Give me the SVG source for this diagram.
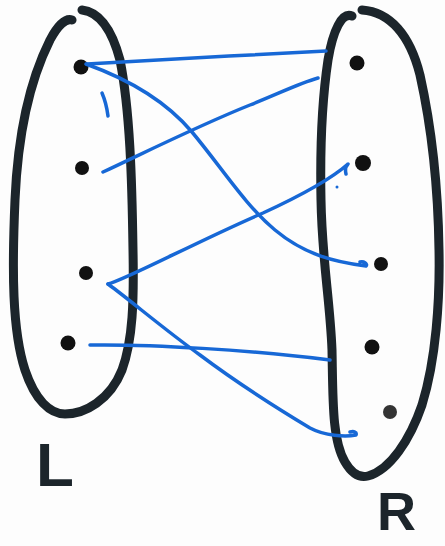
<svg xmlns="http://www.w3.org/2000/svg" width="445" height="546" viewBox="0 0 445 546">
<style>
.set{fill:none;stroke:#1c252b;stroke-width:9;stroke-linecap:round;stroke-linejoin:round}
.dot{fill:#111}
.edge{fill:none;stroke:#1768d6;stroke-width:3.5;stroke-linecap:round;stroke-linejoin:round}
.lbl{font-family:"Liberation Sans",Arial,sans-serif;font-weight:bold;fill:#1c252b}
</style>
<rect width="445" height="546" fill="#fdfdfd"/>
<g id="set-L">
<path class="set" d="M72,20 C66,18 58,25 50,40 C30,80 18,130 15,200 C12,270 12,330 25,370 C35,400 50,414 65,414 C85,414 110,400 122,370 C133,340 134,300 133,250 C132,180 130,110 120,60 C112,30 100,12 82,10"/>
<text class="lbl" x="36" y="486" font-size="62">L</text>
</g>
<g id="set-R">
<path class="set" d="M352,16 C342,12 333,30 328,60 C322,100 320,150 321,200 C322,260 330,300 332,350 C333,400 332,440 345,462 C352,474 360,478 368,476 C390,470 410,440 422,405 C436,360 440,300 439,250 C438,180 430,120 420,75 C410,35 390,12 362,10"/>
<text class="lbl" x="377" y="530" font-size="54">R</text>
</g>
<g id="L1"><circle class="dot" cx="81" cy="67" r="7.5"/></g>
<g id="L2"><circle class="dot" cx="82" cy="168" r="7"/></g>
<g id="L3"><circle class="dot" cx="86" cy="273" r="7"/></g>
<g id="L4"><circle class="dot" cx="68" cy="343" r="7.5"/></g>
<g id="R1"><circle class="dot" cx="357" cy="63" r="7.5"/></g>
<g id="R2"><circle class="dot" cx="363" cy="163" r="8"/></g>
<g id="R3"><circle class="dot" cx="381" cy="264" r="7"/></g>
<g id="R4"><circle class="dot" cx="372" cy="347" r="7.5"/></g>
<g id="R5"><circle class="dot" cx="390" cy="412" r="7" opacity="0.85"/></g>
<g id="connectors">
<path class="edge" d="M87,64 C150,60 250,55 326,51"/>
<path class="edge" d="M86,64 C125,78 165,100 192,132 C222,168 245,205 275,230 C305,255 335,262 366,266 C368,264 364,261 360,262"/>
<path class="edge" d="M103,172 C150,150 200,125 250,105 C280,93 300,83 318,78"/>
<path class="edge" d="M108,284 C125,280 200,240 263,213 C300,196 330,180 348,164 C346,166 345,170 346,174"/>
<path class="edge" d="M108,284 C130,300 165,330 200,355 C240,385 280,410 310,428 C325,436 345,437 356,435 C357,432 354,431 350,432"/>
<path class="edge" d="M90,345 C150,344 250,350 330,360"/>
<path class="edge" d="M102,93 C105,100 107,108 108,116"/>
<circle cx="337" cy="187" r="1.5" fill="#1768d6"/>
</g>
</svg>
